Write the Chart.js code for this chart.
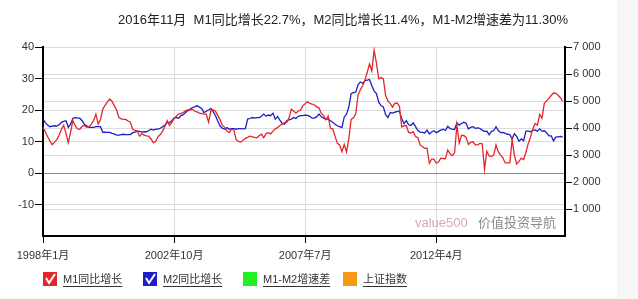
<!DOCTYPE html>
<html>
<head>
<meta charset="utf-8">
<script src="https://cdn.jsdelivr.net/npm/chart.js@4/dist/chart.umd.min.js"></script>
<style>
  html, body { margin: 0; padding: 0; background: #fff; }
  canvas { display: block; }
</style>
</head>
<body>
<canvas id="money-chart" width="638" height="299"></canvas>
<script>
// monthly data, 1998-01 .. 2016-11
const m1Growth = [
  14.5, 13.0, 11.5, 10.2, 9.0, 9.8, 10.6, 12.0, 13.9, 15.1, 12.5, 9.6,
  13.0, 16.6, 15.0, 14.0, 13.9, 14.8, 15.1, 14.5, 14.6, 15.5, 16.6, 18.7,
  15.5, 17.0, 20.3, 21.5, 22.6, 23.5, 22.8, 21.4, 20.0, 17.6, 17.2, 17.0,
  17.0, 16.5, 16.1, 13.9, 13.5, 13.3, 11.7, 12.5, 12.0, 11.8, 11.7, 10.8,
  9.6, 10.1, 11.5, 12.2, 13.3, 14.8, 16.6, 15.1, 16.0, 17.4, 18.0, 18.7,
  18.9, 19.2, 19.8, 20.0, 20.0, 20.2, 19.6, 19.4, 19.0, 18.9, 18.7, 18.7,
  16.1, 19.8, 20.0, 19.6, 18.2, 17.0, 15.1, 14.5, 13.3, 12.8, 13.9, 13.6,
  10.6, 10.0, 9.8, 10.4, 11.0, 11.3, 11.7, 11.5, 11.3, 11.2, 11.8, 12.3,
  11.2, 12.5, 12.8, 12.4, 13.3, 14.0, 14.4, 15.1, 15.5, 16.0, 16.1, 17.5,
  20.3, 19.7, 19.0, 19.7, 20.0, 21.4, 22.0, 22.7, 22.1, 21.9, 21.6, 21.0,
  20.7, 18.9, 18.3, 16.9, 18.1, 14.2, 14.0, 11.7, 9.4, 8.9, 6.8, 9.1,
  6.7, 10.9, 17.0, 17.5, 18.7, 24.8, 26.4, 27.7, 29.5, 32.0, 34.6, 32.4,
  39.0, 34.9, 29.9, 30.3, 29.9, 24.6, 22.9, 22.0, 20.9, 22.1, 22.2, 21.2,
  14.6, 15.0, 15.0, 12.9, 12.7, 13.1, 11.6, 11.2, 8.9, 8.4, 7.8, 7.9,
  3.1, 4.4, 4.4, 3.1, 3.5, 4.7, 4.6, 4.5, 7.3, 6.1, 5.5, 6.5,
  15.3, 9.5, 11.9, 11.9, 11.3, 9.1, 9.7, 9.9, 8.9, 8.9, 9.4, 9.3,
  1.2, 6.9, 5.4, 5.3, 5.7, 8.9, 6.7, 5.7, 4.8, 3.2, 3.2, 3.2,
  10.6, 5.6, 2.9, 3.7, 4.7, 4.3, 6.6, 9.3, 11.4, 14.0, 15.7, 15.2,
  18.6, 17.4, 22.1, 22.9, 23.7, 24.6, 25.4, 25.3, 24.7, 23.9, 22.7
];
const m2Growth = [
  17.1, 16.0, 15.2, 14.7, 14.9, 15.0, 14.9, 15.3, 16.1, 16.4, 16.6, 14.5,
  15.5, 17.4, 17.6, 17.4, 17.4, 16.6, 15.5, 15.0, 14.5, 14.5, 14.5, 14.7,
  14.7, 14.7, 12.9, 13.0, 12.9, 12.9, 12.6, 12.4, 12.0, 12.0, 12.2, 12.3,
  12.2, 12.2, 12.2, 12.8, 13.0, 13.3, 13.2, 13.0, 13.1, 13.1, 13.5, 13.9,
  13.6, 13.9, 13.9, 14.2, 14.7, 15.2, 16.0, 16.0, 16.6, 17.4, 17.6, 17.4,
  18.2, 18.5, 19.2, 19.8, 20.3, 20.8, 21.0, 21.4, 20.9, 20.5, 19.2, 19.6,
  20.0, 20.5, 19.5, 18.2, 16.5, 14.9, 14.2, 13.9, 14.4, 13.9, 14.1, 14.1,
  13.9, 14.1, 14.1, 14.0, 14.1, 17.1, 17.3, 17.6, 17.4, 17.6, 17.6, 18.0,
  18.7, 18.0, 18.4, 18.2, 19.0, 17.1, 17.9, 16.8, 15.8, 15.5, 16.6, 16.9,
  17.1, 17.6, 17.3, 18.0, 18.2, 18.2, 18.4, 18.3, 18.0, 17.4, 17.4, 17.8,
  18.7, 17.9, 17.4, 17.1, 17.1, 16.6, 16.1, 15.5, 15.0, 14.7, 14.4, 17.8,
  18.7, 21.0, 25.2, 25.5, 25.7, 28.0, 28.9, 28.5, 29.3, 29.5, 29.7, 27.7,
  26.0, 25.2, 22.5, 21.4, 21.0, 18.5, 17.6, 19.2, 19.0, 19.3, 19.5, 19.7,
  17.2, 15.7, 16.6, 15.3, 15.1, 15.9, 14.7, 13.5, 13.0, 12.9, 12.7, 13.6,
  12.4, 13.0, 13.4, 12.8, 13.2, 13.6, 13.9, 13.5, 14.8, 14.1, 13.9, 13.8,
  15.9, 15.2, 15.7, 16.1, 15.8, 14.0, 14.5, 14.7, 14.2, 14.3, 14.2, 13.6,
  13.2, 13.3, 12.1, 13.2, 13.4, 14.7, 13.5, 12.8, 12.9, 12.6, 12.3, 12.2,
  10.8, 12.5, 11.6, 10.1, 10.8, 10.2, 13.3, 13.3, 13.1, 13.5, 13.7, 13.3,
  14.0, 13.3, 13.4, 12.8, 11.8, 11.8, 10.2, 11.4, 11.5, 11.6, 11.4
];
const xTickLabels = ['1998年1月', '2002年10月', '2007年7月', '2012年4月'];
const leftTicks = [-20, 40, 10];      // min, max, step
const rightTicks = [0, 7000, 1000];
const legendLabels = ['M1同比增长', 'M2同比增长', 'M1-M2增速差', '上证指数'];
const legendColors = ['#e3262b', '#1e1ec8', '#22f022', '#f59a12'];
const legendChecked = [true, true, false, false];
const titleText = '2016年11月  M1同比增长22.7%，M2同比增长11.4%，M1-M2增速差为11.30%';

// category labels: every month 1998-01 .. 2016-12
const monthLabels = [];
for (let y = 1998; y <= 2016; y++) {
  for (let m = 1; m <= 12; m++) monthLabels.push(y + '年' + m + '月');
}

const FONT = 'Arial, "Liberation Sans", "Noto Sans CJK SC", sans-serif';

const decorPlugin = {
  id: 'decor',
  beforeDraw(chart) {
    const c = chart.ctx;
    c.save();
    c.fillStyle = '#ffffff';
    c.fillRect(0, 0, chart.width, chart.height);
    c.fillStyle = '#f6f6f6';
    c.fillRect(617, 0, chart.width - 617, chart.height);
    c.restore();
  },
  afterDraw(chart) {
    const c = chart.ctx;
    const area = chart.chartArea;
    c.save();
    // title
    c.font = '13px ' + FONT;
    c.fillStyle = '#222';
    c.textAlign = 'center';
    c.textBaseline = 'middle';
    c.fillText(titleText, 343, 20);

    // watermark
    c.font = '13px ' + FONT;
    c.textAlign = 'left';
    c.fillStyle = '#d8aaaa';
    c.fillText('value500', 415, 223);
    c.fillStyle = '#8a8a8a';
    c.fillText('价值投资导航', 478, 223);

    // legend
    c.font = '11px ' + FONT;
    for (let i = 0; i < legendLabels.length; i++) {
      const bx = area.left + 100 * i;
      const by = 272;
      c.fillStyle = legendColors[i];
      c.fillRect(bx, by, 14, 14);
      if (legendChecked[i]) {
        c.strokeStyle = '#fff';
        c.lineWidth = 2;
        c.beginPath();
        c.moveTo(bx + 3, by + 6);
        c.lineTo(bx + 6, by + 11);
        c.lineTo(bx + 12, by + 2);
        c.stroke();
      }
      const tx = bx + 20;
      c.fillStyle = '#333';
      c.textBaseline = 'middle';
      c.fillText(legendLabels[i], tx, by + 8);
      const w = c.measureText(legendLabels[i]).width;
      c.fillRect(tx, by + 14, w, 1);
    }
    c.restore();
  }
};

new Chart(document.getElementById('money-chart'), {
  type: 'line',
  data: {
    labels: monthLabels,
    datasets: [{
      label: legendLabels[0],
      data: m1Growth,
      borderColor: '#e3262b',
      borderWidth: 1.3,
      pointRadius: 0,
      fill: false,
      yAxisID: 'y'
    }, {
      label: legendLabels[1],
      data: m2Growth,
      borderColor: '#1e1ec8',
      borderWidth: 1.3,
      pointRadius: 0,
      fill: false,
      yAxisID: 'y'
    }]
  },
  options: {
    responsive: false,
    animation: false,
    devicePixelRatio: 1,
    layout: { padding: { top: 47, left: 0, right: 0, bottom: 0 } },
    plugins: {
      legend: { display: false },
      title: { display: false },
      tooltip: { enabled: false }
    },
    scales: {
      x: {
        offset: false,
        afterFit: (s) => { s.height = 63; },
        grid: { color: '#dadada', tickColor: '#000', tickLength: 7 },
        border: { display: true, color: '#000', width: 2 },
        ticks: {
          autoSkip: false,
          maxRotation: 0,
          padding: 6,
          color: '#333',
          font: { size: 11, family: FONT },
          callback: function (value) {
            const lab = this.getLabelForValue(value);
            return xTickLabels.includes(lab) ? lab : null;
          }
        }
      },
      y: {
        position: 'left',
        min: leftTicks[0],
        max: leftTicks[1],
        afterFit: (s) => { s.width = 43; },
        grid: {
          color: (c) => c.tick && c.tick.value === 0 ? '#8c8c8c' : '#dcdcdc',
          tickColor: (c) => c.tick && c.tick.value === leftTicks[0] ? 'rgba(0,0,0,0)' : '#000',
          tickLength: 8
        },
        border: { display: true, color: '#000', width: 2 },
        ticks: {
          stepSize: leftTicks[2],
          padding: 1,
          color: '#333',
          font: { size: 11, family: FONT },
          callback: (v) => v === leftTicks[0] ? '' : v
        }
      },
      y1: {
        position: 'right',
        min: rightTicks[0],
        max: rightTicks[1],
        afterFit: (s) => { s.width = 73; },
        grid: {
          color: '#dcdcdc',
          tickColor: (c) => c.tick && c.tick.value === rightTicks[0] ? 'rgba(0,0,0,0)' : '#000',
          tickLength: 7
        },
        border: { display: true, color: '#000', width: 2 },
        ticks: {
          stepSize: rightTicks[2],
          padding: 1,
          color: '#333',
          font: { size: 11, family: FONT },
          callback: (v) => v === 0 ? '' : String(v).replace(/\B(?=(\d{3})+(?!\d))/g, ' ')
        }
      }
    }
  },
  plugins: [decorPlugin]
});
</script>
</body>
</html>
